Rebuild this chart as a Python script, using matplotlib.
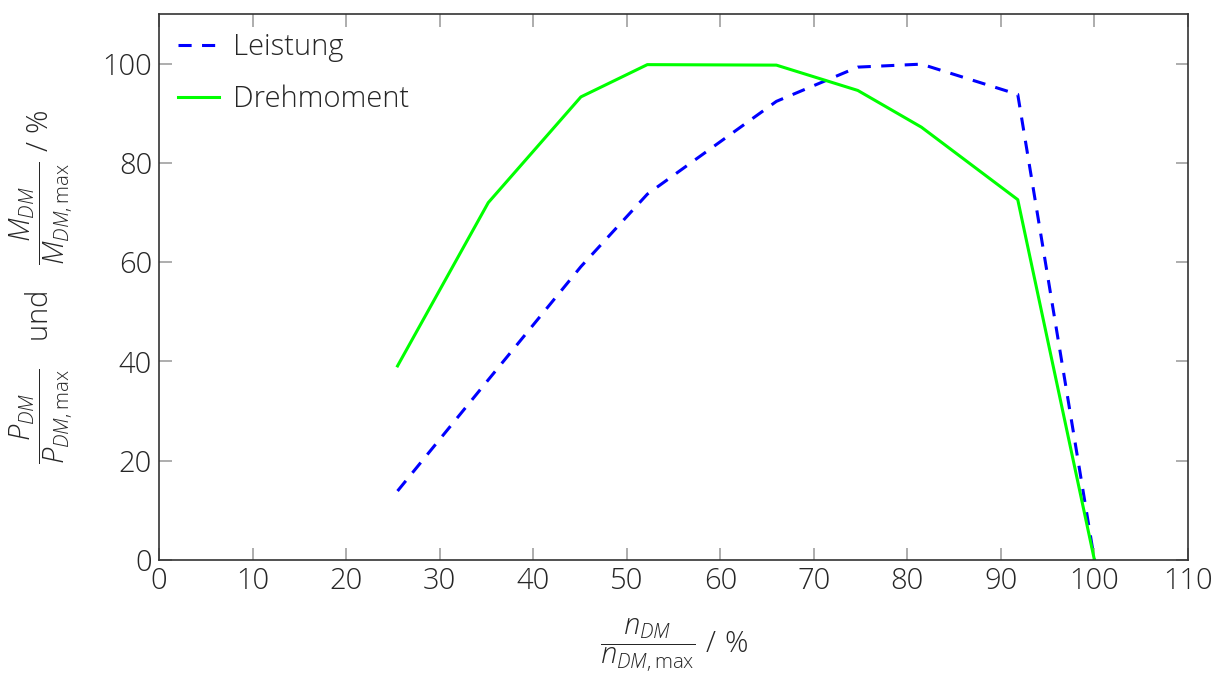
import matplotlib
matplotlib.use("Agg")
import matplotlib.pyplot as plt

# Relative engine speed n/n_max in %
drehzahl = [25.5, 35.2, 45.1, 52.2, 66.0, 74.7, 81.5, 91.8, 100.0]
# Relative power P/P_max in %
leistung = [13.9, 36.3, 59.1, 73.7, 92.4, 99.3, 99.9, 93.8, 0.0]
# Relative torque M/M_max in %
drehmoment = [39.1, 72.0, 93.3, 99.8, 99.7, 94.6, 87.2, 72.6, 0.0]

xticks = [0, 10, 20, 30, 40, 50, 60, 70, 80, 90, 100, 110]
yticks = [0, 20, 40, 60, 80, 100]

plt.rcParams["font.family"] = ["Open Sans", "DejaVu Sans"]
plt.rcParams["font.weight"] = "light"
plt.rcParams["mathtext.fontset"] = "custom"
plt.rcParams["mathtext.rm"] = "Open Sans:light"
plt.rcParams["mathtext.it"] = "Open Sans:italic:light"
plt.rcParams["mathtext.bf"] = "Open Sans:bold"

text_color = "#262626"
fs = 21

fig = plt.figure(figsize=(12.14, 6.75), dpi=100)
ax = fig.add_axes([159 / 1214, 1 - 560 / 675, (1188 - 159) / 1214, (560 - 14) / 675])

ax.plot(drehzahl, leistung, color="#0000ff", lw=2.2, ls=(0, (4.3, 3.4)), label="Leistung")
ax.plot(drehzahl, drehmoment, color="#00ff00", lw=2.2, label="Drehmoment")

ax.set_xlim(0, 110)
ax.set_ylim(0, 110)
ax.set_xticks(xticks)
ax.set_yticks(yticks)
ax.tick_params(axis="both", direction="in", length=9, width=1.2, color="#a0a0a0",
               labelsize=fs, labelcolor=text_color, top=True, right=True, pad=5)
for s in ax.spines.values():
    s.set_color("#333333")
    s.set_linewidth(1.2)

ax.set_xlabel(r"$\dfrac{n_{DM}}{n_{DM,\mathrm{max}}}\ \mathrm{/\ \%}$",
              fontsize=fs, color=text_color, labelpad=14)
ax.set_ylabel(r"$\dfrac{P_{DM}}{P_{DM,\mathrm{max}}}\quad\mathrm{und}\quad"
              r"\dfrac{M_{DM}}{M_{DM,\mathrm{max}}}\ \mathrm{/\ \%}$",
              fontsize=fs, color=text_color, labelpad=20)

leg = ax.legend(loc="upper left", frameon=False, fontsize=fs, handlelength=1.4,
                handletextpad=0.5, borderaxespad=0.25, labelspacing=0.75)
for t in leg.get_texts():
    t.set_color(text_color)

fig.savefig("out.png", dpi=100)
